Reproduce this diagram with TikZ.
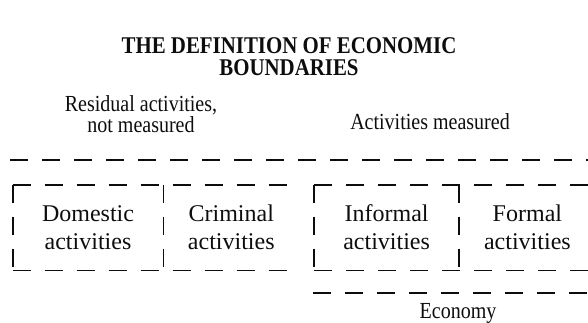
\documentclass[tikz,border=0pt]{standalone}
\usepackage{fontspec}
\setmainfont{Liberation Serif}
\newfontfamily\narrowserif[FakeStretch=0.87]{Liberation Serif}
\definecolor{encre}{rgb}{0.05,0.05,0.05}
\usetikzlibrary{positioning}

\begin{document}
\begin{tikzpicture}[x=0.5pt, y=-0.5pt, font=\fontsize{12}{14}\selectfont] % 1 unit = 1 px
  \tikzstyle{activity}=[rectangle, inner sep=0pt, minimum height=42.5pt, align=center, text=encre]
  \tikzstyle{border}=[draw=encre, line width=0.9pt, dash pattern=on 9pt off 7pt]
  \tikzstyle{textnote}=[align=center, inner sep=0pt, text=encre, font=\narrowserif\fontsize{11.5}{10.5}\selectfont]

  \useasboundingbox (0,0) rectangle (588,322);

  \node[textnote, font=\narrowserif\fontsize{12}{11}\selectfont\bfseries] (title) at (289,57) {THE DEFINITION OF ECONOMIC\\BOUNDARIES};

  \node[textnote] (residual) at (141,114) {Residual activities,\\not measured};
  \node[textnote, anchor=base] (measured) at (430,129) {Activities measured};

  \node[activity, minimum width=75pt]                   (dom)  at (88,227.5) {Domestic\\activities};
  \node[activity, minimum width=67.5pt, right=0pt of dom]  (crim) {Criminal\\activities};
  \node[activity, minimum width=72pt, right=7.5pt of crim] (inf)  {Informal\\activities};
  \node[activity, minimum width=68pt, right=0pt of inf]    (form) {Formal\\activities};

  \coordinate (resL) at (10,160);
  \coordinate (resR) at (588,160);
  \coordinate (ecoL) at (313,293);
  \coordinate (ecoR) at (588,293);

  \draw[border] (resL) -- (resR);

  % residual boxes
  \draw[border] (dom.north west) -- (crim.north east);
  \draw[border] (dom.south west) -- (crim.south east);
  \draw[border] (dom.north west) -- (dom.south west);
  \draw[border] (dom.north east) -- (dom.south east);

  % measured boxes
  \draw[border] (inf.north west) -- (form.north east);
  \draw[border] (inf.south west) -- (form.south east);
  \draw[border] (inf.north west) -- (inf.south west);
  \draw[border] (inf.north east) -- (inf.south east);

  \draw[border] (ecoL) -- (ecoR);
  \node[textnote] (economy) at (458,313) {Economy};

\end{tikzpicture}
\end{document}
